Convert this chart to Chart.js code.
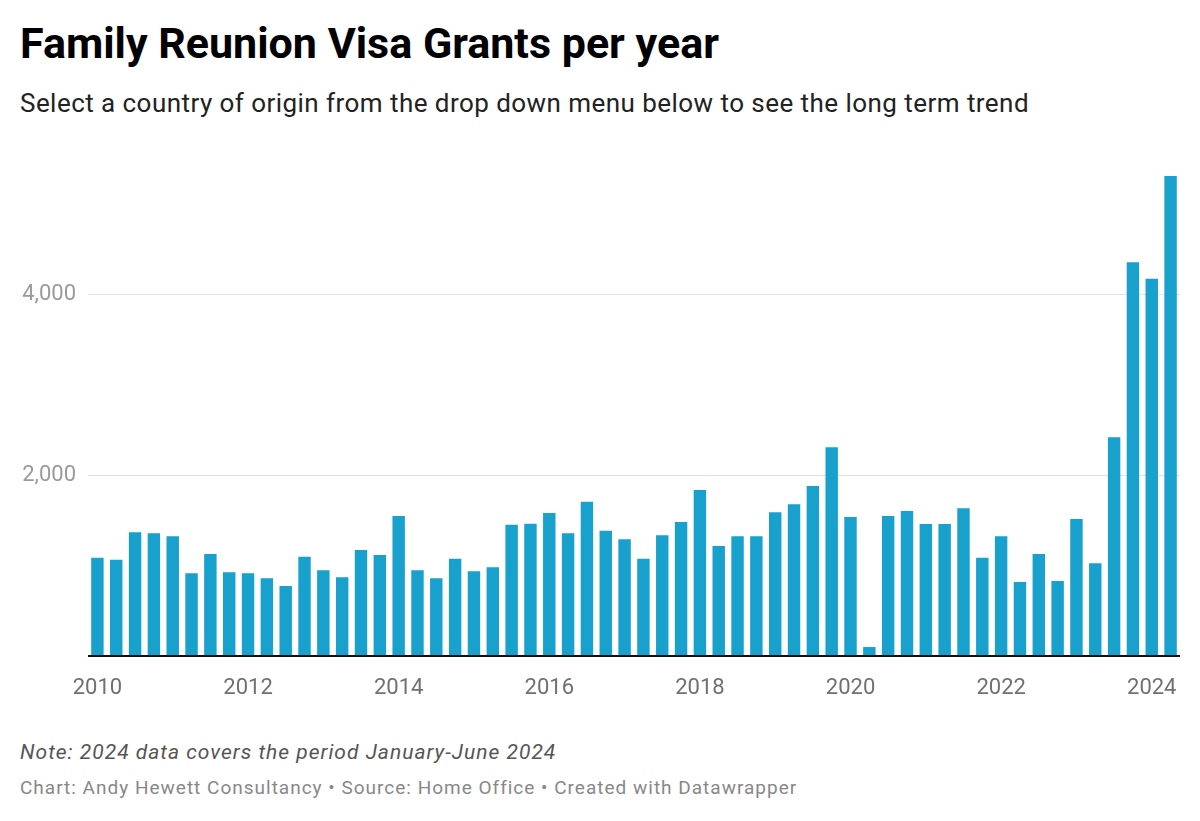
<!DOCTYPE html>
<html>
<head>
<meta charset="utf-8">
<script src="https://cdn.jsdelivr.net/npm/chart.js@4/dist/chart.umd.min.js"></script>
<style>
  html, body { margin: 0; padding: 0; background: #fff; }
  body { width: 1200px; height: 821px; position: relative; font-family: Roboto, sans-serif; overflow: hidden; }
  #title { position: absolute; left: 20px; top: 18px; font-size: 43px; font-weight: 700; color: #000; white-space: nowrap; }
  #subtitle { position: absolute; left: 20px; top: 88px; font-size: 26px; letter-spacing: 0.45px; color: #222; white-space: nowrap; }
  #chartBox { position: absolute; left: 0; top: 150px; width: 1200px; height: 560px; }
  #note { position: absolute; left: 20px; top: 740px; font-size: 21px; letter-spacing: 1px; font-style: italic; color: #555; white-space: nowrap; }
  #source { position: absolute; left: 20px; top: 776px; font-size: 19px; letter-spacing: 1px; color: #888; white-space: nowrap; }
</style>
</head>
<body>
<div id="title">Family Reunion Visa Grants per year</div>
<div id="subtitle">Select a country of origin from the drop down menu below to see the long term trend</div>
<div id="chartBox"><canvas id="chart"></canvas></div>
<div id="note">Note: 2024 data covers the period January-June 2024</div>
<div id="source">Chart: Andy Hewett Consultancy • Source: Home Office • Created with Datawrapper</div>

<script>
// quarters, 2010 Q1 .. 2024 Q2
const periods = [
  '2010 Q1', '2010 Q2', '2010 Q3', '2010 Q4',
  '2011 Q1', '2011 Q2', '2011 Q3', '2011 Q4',
  '2012 Q1', '2012 Q2', '2012 Q3', '2012 Q4',
  '2013 Q1', '2013 Q2', '2013 Q3', '2013 Q4',
  '2014 Q1', '2014 Q2', '2014 Q3', '2014 Q4',
  '2015 Q1', '2015 Q2', '2015 Q3', '2015 Q4',
  '2016 Q1', '2016 Q2', '2016 Q3', '2016 Q4',
  '2017 Q1', '2017 Q2', '2017 Q3', '2017 Q4',
  '2018 Q1', '2018 Q2', '2018 Q3', '2018 Q4',
  '2019 Q1', '2019 Q2', '2019 Q3', '2019 Q4',
  '2020 Q1', '2020 Q2', '2020 Q3', '2020 Q4',
  '2021 Q1', '2021 Q2', '2021 Q3', '2021 Q4',
  '2022 Q1', '2022 Q2', '2022 Q3', '2022 Q4',
  '2023 Q1', '2023 Q2', '2023 Q3', '2023 Q4',
  '2024 Q1', '2024 Q2'
];

const grants = [
  1086, 1064, 1367, 1356,
  1323, 914, 1127, 925,
  914, 859, 774, 1097,
  947, 870, 1171, 1116,
  1547, 947, 859, 1075,
  936, 980, 1451, 1462,
  1580, 1356, 1705, 1385,
  1290, 1075, 1334, 1481,
  1834, 1215, 1323, 1323,
  1588, 1676, 1878, 2306,
  1536, 99, 1547, 1602,
  1459, 1459, 1632, 1086,
  1323, 818, 1127, 829,
  1514, 1024, 2417, 4351,
  4169, 5304
];

// x labels shown at Q1 of these years
const tickYears = ['2010', '2012', '2014', '2016', '2018', '2020', '2022', '2024'];
const yTicks = [0, 2000, 4000];

const ctx = document.getElementById('chart').getContext('2d');

new Chart(ctx, {
  type: 'bar',
  data: {
    labels: periods,
    datasets: [{
      label: 'Family reunion visa grants',
      data: grants,
      backgroundColor: '#18a1cd',
      borderWidth: 0,
      barPercentage: 0.66,
      categoryPercentage: 1
    }]
  },
  options: {
    responsive: true,
    maintainAspectRatio: false,
    animation: false,
    layout: { padding: { left: 20, right: 20, top: 26, bottom: 0 } },
    plugins: {
      legend: { display: false },
      tooltip: { enabled: false }
    },
    scales: {
      x: {
        grid: { display: false },
        border: { display: false },
        afterFit: scale => { scale.height = 54; },
        ticks: {
          autoSkip: false,
          maxRotation: 0,
          padding: 11,
          color: '#707070',
          font: { family: 'Roboto', size: 22 },
          callback: function (val, i) {
            const [year, q] = periods[i].split(' ');
            return (q === 'Q1' && tickYears.includes(year)) ? year : '';
          }
        }
      },
      y: {
        min: 0,
        max: 5304,
        border: { display: false },
        afterFit: scale => { scale.width = 68; },
        afterBuildTicks: scale => { scale.ticks = yTicks.map(v => ({ value: v })); },
        grid: {
          drawTicks: false,
          color: c => c.tick && c.tick.value === 0 ? '#111' : '#e2e2e2',
          lineWidth: c => c.tick && c.tick.value === 0 ? 2 : 1
        },
        ticks: {
          padding: 12,
          color: '#9a9a9a',
          font: { family: 'Roboto', size: 22 },
          callback: v => v === 0 ? '' : v.toLocaleString('en-US')
        }
      }
    }
  }
});
</script>
</body>
</html>
